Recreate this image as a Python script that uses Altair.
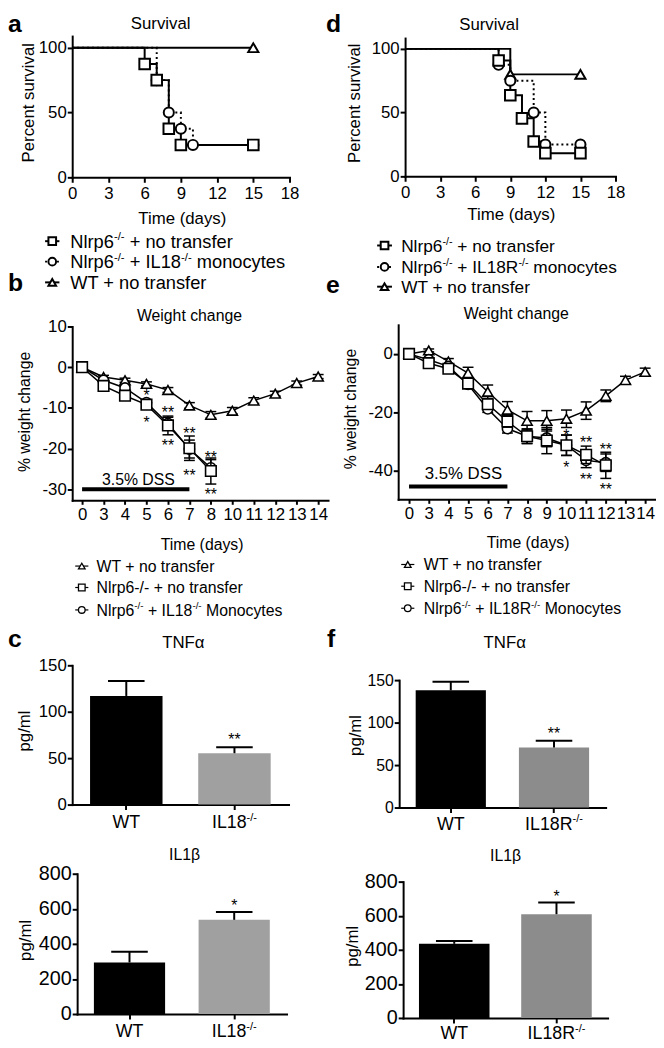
import altair as alt
import pandas as pd

FONT = "Liberation Sans, Arial, sans-serif"
W, H, M = 656, 1040, 8          # chart size, page margin
SUPF, SUPR = 0.62, 0.40         # superscript scale / raise

# ============================ DATA ============================
# (a) Survival - Nlrp6-/- recipients of IL18-/- monocytes
a_ko_day, a_ko_surv = [0, 6, 7, 8, 9, 15], [100, 87.5, 75, 37.5, 25, 25]
a_mo_day, a_mo_surv = [0, 7, 8, 9, 10, 15], [100, 75, 50, 37.5, 25, 25]
a_wt_day, a_wt_surv = [0, 15], [100, 100]
# (d) Survival - IL18R-/- monocytes
d_ko_day, d_ko_surv = [0, 8, 9, 10, 11, 12, 15], [100, 90.9, 63.6, 45.5, 27.3, 18.2, 18.2]
d_mo_day, d_mo_surv = [0, 8, 9, 11, 12, 15], [100, 87.5, 75, 50, 25, 25]
d_wt_day, d_wt_surv = [0, 9, 15], [100, 80, 80]
surv_ticks = [0, 3, 6, 9, 12, 15, 18]

# (b) Weight change
b_days = ['0', '3', '4', '5', '6', '7', '8', '10', '11', '12', '13', '14']
b_wt = [0, -2.4, -3.2, -4.1, -5.6, -9.4, -11.7, -10.7, -8.2, -6.5, -3.9, -2.3]
b_wt_err = [0, 0.4, 0.5, 0.5, 0.6, 0.7, 0.8, 0.8, 0.7, 0.6, 0.5, 0.5]
b_ko_days = b_days[:7]
b_ko = [0, -4.6, -7.0, -9.2, -14.3, -19.9, -25.5]
b_ko_err = [0, 0.5, 0.6, 0.8, 2.3, 3.0, 3.2]
b_mo = [0, -3.2, -5.1, -8.7, -13.8, -20.1, -24.7]
b_mo_err = [0, 0.4, 0.5, 0.7, 1.5, 2.2, 2.0]
b_star_day = ['5', '5', '6', '6', '7', '7', '8', '8']
b_star_val = [-6.0, -12.6, -10.2, -18.4, -15.3, -25.7, -21.3, -30.5]
b_star_txt = ['*', '*', '**', '**', '**', '**', '**', '**']
b_yticks = [-30, -20, -10, 0, 10]

# (e) Weight change
e_days = ['0', '3', '4', '5', '6', '7', '8', '9', '10', '11', '12', '13', '14']
e_wt = [0, 1.2, -2.6, -6.6, -13.0, -19.2, -23.0, -23.0, -22.3, -19.5, -14.4, -9.0, -6.2]
e_wt_err = [0, 0.5, 1.0, 2.0, 2.3, 2.8, 3.2, 3.5, 3.0, 3.0, 2.0, 1.3, 1.3]
e_ko_days = e_days[:11]
e_ko = [0, -3.2, -5.1, -10.2, -17.3, -23.2, -28.3, -29.8, -31.4, -34.7, -38.3]
e_ko_err = [0, 0.5, 0.8, 1.0, 1.5, 2.0, 2.5, 4.5, 3.5, 3.0, 4.5]
e_mo = [0, -2.0, -4.3, -10.5, -18.9, -25.7, -28.3, -28.9, -31.4, -36.6, -37.4]
e_mo_err = [0, 0.5, 0.8, 1.0, 1.2, 1.5, 2.5, 3.0, 3.5, 2.5, 3.0]
e_star_day = ['10', '10', '11', '11', '12', '12']
e_star_val = [-26.9, -37.8, -29.3, -41.9, -31.7, -45.3]
e_star_txt = ['*', '*', '**', '**', '**', '**']
e_yticks = [-40, -20, 0]

# (c) cytokines, IL18-/-
c_groups = ['WT', 'IL18-/-']
c_tnf_mean, c_tnf_sem = [117, 55.3], [16, 6.4]
c_il1_mean, c_il1_sem = [294, 537], [61, 45]
c_tnf_sig, c_tnf_sig_v = '**', 73.4
c_il1_sig, c_il1_sig_v = '*', 637
# (f) cytokines, IL18R-/-
f_groups = ['WT', 'IL18R-/-']
f_tnf_mean, f_tnf_sem = [138, 70.6], [10, 8.1]
f_il1_mean, f_il1_sem = [435, 609], [17, 69]
f_tnf_sig, f_tnf_sig_v = '**', 91
f_il1_sig, f_il1_sig_v = '*', 736

# legend texts (text, is_superscript)
leg_a = [[("Nlrp6", 0), ("-/-", 1), (" + no transfer", 0)],
         [("Nlrp6", 0), ("-/-", 1), (" + IL18", 0), ("-/-", 1), (" monocytes", 0)],
         [("WT + no transfer", 0)]]
leg_d = [[("Nlrp6", 0), ("-/-", 1), (" + no transfer", 0)],
         [("Nlrp6", 0), ("-/-", 1), (" + IL18R", 0), ("-/-", 1), (" monocytes", 0)],
         [("WT + no transfer", 0)]]
leg_b = [[("WT + no transfer", 0)],
         [("Nlrp6-/- + no transfer", 0)],
         [("Nlrp6", 0), ("-/-", 1), (" + IL18", 0), ("-/-", 1), (" Monocytes", 0)]]
leg_e = [[("WT + no transfer", 0)],
         [("Nlrp6-/- + no transfer", 0)],
         [("Nlrp6", 0), ("-/-", 1), (" + IL18R", 0), ("-/-", 1), (" Monocytes", 0)]]
c_labels = [("WT", ""), ("IL18", "-/-")]
f_labels = [("WT", ""), ("IL18R", "-/-")]

# ============================ HELPERS ============================
AW = {' ': 278, '%': 889, '(': 333, ')': 333, '+': 584, '-': 333, '.': 278, '/': 278, '*': 389,
      'D': 722, 'F': 611, 'I': 278, 'L': 556, 'M': 833, 'N': 722, 'R': 722, 'S': 667, 'T': 611, 'W': 944,
      'a': 556, 'c': 500, 'd': 556, 'e': 556, 'f': 278, 'g': 556, 'h': 556, 'i': 222, 'l': 222,
      'm': 833, 'n': 556, 'o': 556, 'p': 556, 'r': 333, 's': 500, 't': 278, 'u': 556, 'v': 500,
      'w': 722, 'y': 500}


def tw(s, fs):
    return sum(AW.get(ch, 556) for ch in s) * fs / 1000.0


def ax(fs, **kw):
    base = dict(grid=False, domainColor='black', domainWidth=2, tickColor='black', tickWidth=2,
                tickSize=5, labelColor='black', labelFont=FONT, labelFontSize=fs, titleFont=FONT,
                titleColor='black', titleFontSize=fs, titleFontWeight='normal', labelFlush=False,
                labelOverlap=False, domainCap='square')
    base.update(kw)
    return alt.Axis(**base)


SZ = {'square': 115, 'circle': 105, 'triangle-up': 105}


def survival_panel(series, xr, yb, yt, ytop, xt_c, yt_c, fs=17):
    sx = alt.Scale(domain=[0, 18], range=[xr[0] - M, xr[1] - M], nice=False, zero=False)
    sy = alt.Scale(domain=[0, ytop], range=[yb - M, yt - M], nice=False, zero=False)
    axx = ax(fs, orient='bottom', values=surv_ticks, title='Time (days)', offset=(yb - M) - H,
             labelPadding=3, titleX=xt_c[0] - M, titleY=xt_c[1] - yb, titleAlign='center',
             titleBaseline='middle')
    axy = ax(fs, orient='left', values=[0, 50, 100], title='Percent survival', offset=-(xr[0] - M),
             labelPadding=1, titleX=yt_c[0] - xr[0], titleY=yt_c[1] - M, titleAngle=-90,
             titleAlign='center', titleBaseline='middle')
    X = alt.X('day:Q', scale=sx, axis=axx)
    Y = alt.Y('surv:Q', scale=sy, axis=axy)
    lines, pts = [], []
    for days, surv, shape, dotted in series:
        df = pd.DataFrame({'day': days, 'surv': surv})
        mk = dict(interpolate='step-after', color='black', strokeWidth=2)
        if dotted:
            mk['strokeDash'] = [2, 3]
        lines.append(alt.Chart(df).mark_line(**mk).encode(x=X, y=Y))
        pts.append(alt.Chart(df.iloc[1:]).mark_point(shape=shape, filled=True, fill='white',
                                                     stroke='black', strokeWidth=2, size=SZ[shape],
                                                     opacity=1).encode(x=X, y=Y))
    return alt.layer(*lines, *pts)


def weight_panel(days, series, stars, xr, pad, yb, yt, ydom, yvals, xt_c, yt_c, fs=17, star_fs=16):
    sx = alt.Scale(type='point', domain=days, range=[xr[0] - M, xr[1] - M], padding=pad)
    sy = alt.Scale(domain=ydom, range=[yb - M, yt - M], nice=False, zero=False)
    axx = ax(fs, orient='bottom', title='Time (days)', offset=(yb - M) - H, tickSize=4, labelPadding=2,
             labelAngle=0, titleX=xt_c[0] - M, titleY=xt_c[1] - yb, titleAlign='center',
             titleBaseline='middle', titleFontSize=16)
    axy = ax(fs, orient='left', values=yvals, title='% weight change', offset=-(xr[0] - M),
             labelPadding=1, titleX=yt_c[0] - xr[0], titleY=yt_c[1] - M, titleAngle=-90,
             titleAlign='center', titleBaseline='middle', titleFontSize=16,
             labelExpr="datum.value + ''")

    def X(f):
        return alt.X(f, type='ordinal', scale=sx, axis=axx)

    def Y(f):
        return alt.Y(f, type='quantitative', scale=sy, axis=axy)

    layers = []
    for sd, mean, err, shape in series:
        df = pd.DataFrame({'day': sd, 'm': mean,
                           'lo': [a - b for a, b in zip(mean, err)],
                           'hi': [a + b for a, b in zip(mean, err)],
                           'i': list(range(len(sd)))})
        dfe = df[df.hi != df.lo]
        layers.append(alt.Chart(dfe).mark_rule(color='black', strokeWidth=1.5).encode(
            x=X('day'), y=Y('lo'), y2='hi'))
        for f in ('lo', 'hi'):
            layers.append(alt.Chart(dfe).mark_tick(color='black', thickness=1.5, size=11,
                                                   orient='horizontal', opacity=1).encode(
                x=X('day'), y=Y(f)))
        layers.append(alt.Chart(df).mark_line(color='black', strokeWidth=1.5).encode(
            x=X('day'), y=Y('m'), order='i:Q'))
        layers.append(alt.Chart(df).mark_point(shape=shape, filled=True, fill='white', stroke='black',
                                               strokeWidth=1.6, size=SZ[shape], opacity=1).encode(
            x=X('day'), y=Y('m')))
    sday, sval, stxt = stars
    sdf = pd.DataFrame({'day': sday, 'v': sval, 't': stxt})
    layers.append(alt.Chart(sdf).mark_text(font=FONT, fontSize=star_fs, color='black',
                                           baseline='alphabetic', dy=0.57 * star_fs).encode(
        x=X('day'), y=Y('v'), text='t:N'))
    return layers, X, Y


def bar_panel(groups, means, sems, colors, sig, sig_v, xr, pi, po, yb, yt, ydom, yvals, yt_c,
              fs, lab_fs, lab_base, labels, star_fs=16, cap=37):
    sx = alt.Scale(type='band', domain=groups, range=[xr[0] - M, xr[1] - M],
                   paddingInner=pi, paddingOuter=po)
    sy = alt.Scale(domain=ydom, range=[yb - M, yt - M], nice=False, zero=True)
    axx = ax(fs, orient='bottom', title='', labels=False, offset=(yb - M) - H)
    axy = ax(fs, orient='left', values=yvals, title='pg/ml', offset=-(xr[0] - M), labelPadding=1,
             titleX=yt_c[0] - xr[0], titleY=yt_c[1] - M, titleAngle=-90, titleAlign='center',
             titleBaseline='middle', titleFontSize=17)
    X = alt.X('g:N', scale=sx, axis=axx)

    def Y(f):
        return alt.Y(f, type='quantitative', scale=sy, axis=axy)

    layers = []
    for g, m, s, col in zip(groups, means, sems, colors):
        df = pd.DataFrame({'g': [g], 'm': [m], 'hi': [m + s]})
        layers.append(alt.Chart(df).mark_bar(color=col).encode(x=X, y=Y('m')))
        layers.append(alt.Chart(df).mark_rule(color='black', strokeWidth=2).encode(
            x=X, y=Y('m'), y2='hi'))
        layers.append(alt.Chart(df).mark_tick(color='black', thickness=2, size=cap,
                                              orient='horizontal', opacity=1).encode(x=X, y=Y('hi')))
    sdf = pd.DataFrame({'g': [groups[1]], 'v': [sig_v], 't': [sig]})
    layers.append(alt.Chart(sdf).mark_text(font=FONT, fontSize=star_fs, color='black',
                                           baseline='alphabetic', dy=0.57 * star_fs).encode(
        x=X, y=Y('v'), text='t:N'))
    for g, (main, sup) in zip(groups, labels):
        df = pd.DataFrame({'g': [g]})
        sf = lab_fs * SUPF
        mw = tw(main, lab_fs)
        sw = tw(sup, sf) if sup else 0
        layers.append(alt.Chart(df).mark_text(font=FONT, fontSize=lab_fs, align='center',
                                              baseline='alphabetic', dx=-sw / 2, text=main,
                                              color='black').encode(x=X, y=alt.value(lab_base - M)))
        if sup:
            layers.append(alt.Chart(df).mark_text(font=FONT, fontSize=sf, align='left',
                                                  baseline='alphabetic', dx=mw / 2 - sw / 2,
                                                  text=sup, color='black').encode(
                x=X, y=alt.value(lab_base - M - lab_fs * SUPR)))
    return alt.layer(*layers)


# ============================ PANELS ============================
pa = survival_panel([(a_wt_day, a_wt_surv, 'triangle-up', False),
                     (a_mo_day, a_mo_surv, 'circle', True),
                     (a_ko_day, a_ko_surv, 'square', False)],
                    xr=(73, 293), yb=173, yt=30, ytop=109, xt_c=(184, 215), yt_c=(29, 97))
pd_ = survival_panel([(d_wt_day, d_wt_surv, 'triangle-up', False),
                      (d_mo_day, d_mo_surv, 'circle', True),
                      (d_ko_day, d_ko_surv, 'square', False)],
                     xr=(410, 623), yb=172, yt=32, ytop=108.5, xt_c=(517, 211), yt_c=(359, 97.5))

lb, Xb, Yb = weight_panel(b_days,
                          [(b_days, b_wt, b_wt_err, 'triangle-up'),
                           (b_ko_days, b_mo, b_mo_err, 'circle'),
                           (b_ko_days, b_ko, b_ko_err, 'square')],
                          (b_star_day, b_star_val, b_star_txt),
                          xr=(73, 332), pad=0.46, yb=500, yt=324, ydom=[-32.7, 10], yvals=b_yticks,
                          xt_c=(204, 544.5), yt_c=(25, 410))
dss_b = alt.Chart(pd.DataFrame({'a': ['0'], 'b': ['7'], 'v': [-30]})).mark_rule(
    color='black', strokeWidth=4).encode(x=Xb('a'), x2='b', y=Yb('v'))
pb = alt.layer(*lb, dss_b)

le, Xe, Ye = weight_panel(e_days,
                          [(e_days, e_wt, e_wt_err, 'triangle-up'),
                           (e_ko_days, e_mo, e_mo_err, 'circle'),
                           (e_ko_days, e_ko, e_ko_err, 'square')],
                          (e_star_day, e_star_val, e_star_txt),
                          xr=(403, 664), pad=0.552, yb=499, yt=322.3, ydom=[-50, 10], yvals=e_yticks,
                          xt_c=(534, 543), yt_c=(355, 407))
dss_e = alt.Chart(pd.DataFrame({'a': ['0'], 'b': ['7'], 'v': [-45.6]})).mark_rule(
    color='black', strokeWidth=4).encode(x=Xe('a'), x2='b', y=Ye('v'))
pe = alt.layer(*le, dss_e)

pc1 = bar_panel(c_groups, c_tnf_mean, c_tnf_sem, ['black', '#a0a0a0'], c_tnf_sig, c_tnf_sig_v,
                xr=(73, 292), pi=0.33, po=0.165, yb=808, yt=667, ydom=[0, 150], yvals=[0, 50, 100, 150],
                yt_c=(25, 733), fs=17, lab_fs=18, lab_base=831.7, labels=c_labels)
pc2 = bar_panel(c_groups, c_il1_mean, c_il1_sem, ['black', '#a0a0a0'], c_il1_sig, c_il1_sig_v,
                xr=(78, 290), pi=0.32, po=0.16, yb=1020, yt=878, ydom=[0, 800],
                yvals=[0, 200, 400, 600, 800], yt_c=(25.5, 945), fs=20, lab_fs=18, lab_base=1043.3,
                labels=c_labels)
pf1 = bar_panel(f_groups, f_tnf_mean, f_tnf_sem, ['black', '#8c8c8c'], f_tnf_sig, f_tnf_sig_v,
                xr=(404, 613), pi=0.32, po=0.16, yb=811, yt=682, ydom=[0, 150], yvals=[0, 50, 100, 150],
                yt_c=(360, 737.5), fs=16, lab_fs=18, lab_base=833.3, labels=f_labels)
pf2 = bar_panel(f_groups, f_il1_mean, f_il1_sem, ['black', '#8c8c8c'], f_il1_sig, f_il1_sig_v,
                xr=(408, 615), pi=0.31, po=0.155, yb=1024, yt=886, ydom=[0, 800],
                yvals=[0, 200, 400, 600, 800], yt_c=(356.7, 951), fs=20, lab_fs=18, lab_base=1045,
                labels=f_labels)

# ============================ ANNOTATIONS ============================
seg, syms_thick, syms_thin, lines_solid, lines_dot, lines_thin = [], [], [], [], [], []


def add_rich(x0, base, parts, fs):
    x = x0
    for t, sup in parts:
        f = fs * SUPF if sup else fs
        if t.startswith(' '):
            x += tw(' ', f)
            t = t[1:]
        seg.append(dict(px=x - M, py=base - M - (fs * SUPR if sup else 0), t=t, fs=f))
        x += tw(t, f)


def add_legend(rows, shapes, dotted, x_text, x_sym, sym_w, bases, fs, thick):
    for parts, shp, dt, b in zip(rows, shapes, dotted, bases):
        add_rich(x_text, b, parts, fs)
        yc = b - 0.36 * fs - M
        line = dict(x1=x_sym - sym_w / 2 - M, x2=x_sym + sym_w / 2 - M, y=yc)
        if thick:
            (lines_dot if dt else lines_solid).append(line)
            syms_thick.append(dict(px=x_sym - M, py=yc, shape=shp))
        else:
            lines_thin.append(line)
            syms_thin.append(dict(px=x_sym - M, py=yc, shape=shp))


add_legend(leg_a, ['square', 'circle', 'triangle-up'], [0, 1, 0], 71, 52.8, 14.5,
           [244.3, 265, 286], 18.5, True)
add_legend(leg_d, ['square', 'circle', 'triangle-up'], [0, 1, 0], 406, 389.2, 15,
           [248.3, 270, 290], 17.5, True)
add_legend(leg_b, ['triangle-up', 'square', 'circle'], [0, 0, 0], 97.7, 82.7, 13.3,
           [572.3, 594, 616.7], 16, False)
add_legend(leg_e, ['triangle-up', 'square', 'circle'], [0, 0, 0], 429, 412.7, 13.3,
           [570.7, 592.7, 615], 16, False)

centers = [("Survival", 162.5, 22.7, 17), ("Survival", 495, 24, 17),
           ("Weight change", 191.7, 318.3, 16), ("Weight change", 522.5, 316.7, 16),
           ("3.5% DSS", 140, 484, 16), ("3.5% DSS", 469, 478.3, 17),
           ("TNFα", 185.5, 649.3, 17), ("TNFα", 510.8, 649.3, 17),
           ("IL1β", 186.7, 864, 16), ("IL1β", 511.7, 865, 16)]
cdf = pd.DataFrame([dict(px=x - M, py=b - M, t=t, fs=f) for t, x, b, f in centers])
letters = pd.DataFrame([dict(px=x - M, py=b - M, t=t) for t, x, b in
                        [("a", 8, 26), ("d", 330, 26), ("b", 8, 288.3), ("e", 330, 290),
                         ("c", 8, 648.3), ("f", 331, 648.3)]])

PX = alt.X('px:Q', scale=None, axis=None)
PY = alt.Y('py:Q', scale=None, axis=None)
ann = [
    alt.Chart(pd.DataFrame(seg)).mark_text(font=FONT, align='left', baseline='alphabetic',
                                           color='black').encode(
        x=PX, y=PY, text='t:N', size=alt.Size('fs:Q', scale=None)),
    alt.Chart(cdf).mark_text(font=FONT, align='center', baseline='alphabetic', color='black').encode(
        x=PX, y=PY, text='t:N', size=alt.Size('fs:Q', scale=None)),
    alt.Chart(letters).mark_text(font=FONT, align='left', baseline='alphabetic', fontSize=25,
                                 fontWeight='bold', color='black').encode(x=PX, y=PY, text='t:N'),
]
LX = alt.X('x1:Q', scale=None, axis=None)
LY = alt.Y('y:Q', scale=None, axis=None)
ann += [
    alt.Chart(pd.DataFrame(lines_solid)).mark_rule(color='black', strokeWidth=2).encode(
        x=LX, x2='x2:Q', y=LY),
    alt.Chart(pd.DataFrame(lines_dot)).mark_rule(color='black', strokeWidth=2, strokeDash=[2, 2]).encode(
        x=LX, x2='x2:Q', y=LY),
    alt.Chart(pd.DataFrame(lines_thin)).mark_rule(color='black', strokeWidth=1.2).encode(
        x=LX, x2='x2:Q', y=LY),
    alt.Chart(pd.DataFrame(syms_thick)).mark_point(filled=True, fill='white', stroke='black',
                                                   strokeWidth=2, size=60, opacity=1).encode(
        x=PX, y=PY, shape=alt.Shape('shape:N', scale=None)),
    alt.Chart(pd.DataFrame(syms_thin)).mark_point(filled=True, fill='white', stroke='black',
                                                  strokeWidth=1.3, size=45, opacity=1).encode(
        x=PX, y=PY, shape=alt.Shape('shape:N', scale=None)),
]

chart = alt.layer(pa, pd_, pb, pe, pc1, pc2, pf1, pf2, *ann).resolve_scale(
    x='independent', y='independent').resolve_axis(x='independent', y='independent').properties(
    width=W, height=H, autosize=alt.AutoSizeParams(type='none'), padding=0,
    background='white').configure_view(strokeWidth=0)

chart.save("out.html", embed_options={"renderer": "svg", "actions": False})
